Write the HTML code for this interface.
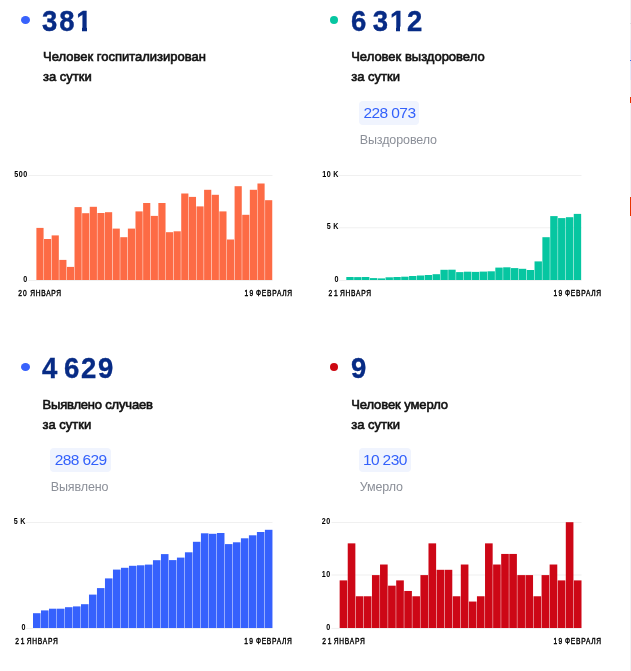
<!DOCTYPE html>
<html lang="ru"><head><meta charset="utf-8"><title>Статистика</title>
<style>
html,body{margin:0;padding:0;background:#fff;}
body{width:631px;height:671px;position:relative;overflow:hidden;font-family:"Liberation Sans", sans-serif;}
.dot{position:absolute;width:9px;height:8.3px;border-radius:50%;}
.num{position:absolute;font-weight:700;font-size:27.5px;line-height:32px;color:#072b85;-webkit-text-stroke:0.35px #072b85;white-space:nowrap;letter-spacing:1.8px;word-spacing:-4.7px;transform:scaleY(1.095);transform-origin:0 25px;}
.w{position:absolute;top:20.8px;height:6.5px;background:#fff;}
.lab{position:absolute;font-weight:400;font-size:13px;line-height:20px;color:#111;white-space:nowrap;-webkit-text-stroke:0.6px #111;}
.badge{position:absolute;height:23.7px;line-height:23.7px;padding:0 4.2px 0 4.6px;border-radius:4px;background:#f0f4fe;color:#3361fb;font-size:15.5px;letter-spacing:-0.6px;white-space:nowrap;}
.sub{position:absolute;font-size:12.5px;letter-spacing:-0.1px;line-height:16px;color:#8b8f98;white-space:nowrap;}
svg{position:absolute;left:0;top:0;}
.yl{font-family:"Liberation Sans", sans-serif;font-size:8.3px;font-weight:700;fill:#000;letter-spacing:0.7px;word-spacing:-0.8px;}
.xl{font-family:"Liberation Sans", sans-serif;font-size:8.3px;font-weight:400;fill:#000;stroke:#000;stroke-width:0.4px;}
.edge{position:absolute;left:630px;width:1px;}
</style></head><body>
<svg width="631" height="671" viewBox="0 0 631 671">
<rect x="28.3" y="175.00" width="244.20" height="1" fill="#f0f0f0"/>
<rect x="28.3" y="280.00" width="244.20" height="1" fill="#f0f0f0"/>
<rect x="36.40" y="227.90" width="7.17" height="52.10" fill="#fd6b45"/>
<rect x="44.02" y="239.00" width="7.17" height="41.00" fill="#fd6b45"/>
<rect x="51.65" y="235.40" width="7.17" height="44.60" fill="#fd6b45"/>
<rect x="59.27" y="259.90" width="7.17" height="20.10" fill="#fd6b45"/>
<rect x="66.89" y="266.90" width="7.17" height="13.10" fill="#fd6b45"/>
<rect x="74.51" y="207.10" width="7.17" height="72.90" fill="#fd6b45"/>
<rect x="82.14" y="213.20" width="7.17" height="66.80" fill="#fd6b45"/>
<rect x="89.76" y="206.80" width="7.17" height="73.20" fill="#fd6b45"/>
<rect x="97.38" y="213.00" width="7.17" height="67.00" fill="#fd6b45"/>
<rect x="105.00" y="212.20" width="7.17" height="67.80" fill="#fd6b45"/>
<rect x="112.63" y="228.60" width="7.17" height="51.40" fill="#fd6b45"/>
<rect x="120.25" y="237.20" width="7.17" height="42.80" fill="#fd6b45"/>
<rect x="127.87" y="228.60" width="7.17" height="51.40" fill="#fd6b45"/>
<rect x="135.49" y="211.40" width="7.17" height="68.60" fill="#fd6b45"/>
<rect x="143.12" y="203.00" width="7.17" height="77.00" fill="#fd6b45"/>
<rect x="150.74" y="215.90" width="7.17" height="64.10" fill="#fd6b45"/>
<rect x="158.36" y="203.00" width="7.17" height="77.00" fill="#fd6b45"/>
<rect x="165.98" y="232.20" width="7.17" height="47.80" fill="#fd6b45"/>
<rect x="173.61" y="231.30" width="7.17" height="48.70" fill="#fd6b45"/>
<rect x="181.23" y="193.50" width="7.17" height="86.50" fill="#fd6b45"/>
<rect x="188.85" y="196.90" width="7.17" height="83.10" fill="#fd6b45"/>
<rect x="196.47" y="206.40" width="7.17" height="73.60" fill="#fd6b45"/>
<rect x="204.10" y="189.80" width="7.17" height="90.20" fill="#fd6b45"/>
<rect x="211.72" y="194.80" width="7.17" height="85.20" fill="#fd6b45"/>
<rect x="219.34" y="211.40" width="7.17" height="68.60" fill="#fd6b45"/>
<rect x="226.96" y="239.50" width="7.17" height="40.50" fill="#fd6b45"/>
<rect x="234.59" y="186.20" width="7.17" height="93.80" fill="#fd6b45"/>
<rect x="242.21" y="214.80" width="7.17" height="65.20" fill="#fd6b45"/>
<rect x="249.83" y="189.80" width="7.17" height="90.20" fill="#fd6b45"/>
<rect x="257.45" y="183.50" width="7.17" height="96.50" fill="#fd6b45"/>
<rect x="265.08" y="200.20" width="7.17" height="79.80" fill="#fd6b45"/>
<text transform="translate(27.9,177.10) scale(0.86,1)" text-anchor="end" class="yl">500</text>
<text transform="translate(27.9,282.10) scale(0.86,1)" text-anchor="end" class="yl">0</text>
<text transform="translate(18.20,296.00) scale(0.8,1)" class="xl" textLength="10.62" lengthAdjust="spacing">20</text><text transform="translate(30.30,296.00) scale(0.8,1)" class="xl" textLength="38.50" lengthAdjust="spacing">ЯНВАРЯ</text>
<text transform="translate(244.50,296.00) scale(0.8,1)" class="xl" textLength="10.87" lengthAdjust="spacing">19</text><text transform="translate(256.10,296.00) scale(0.8,1)" class="xl" textLength="45.00" lengthAdjust="spacing">ФЕВРАЛЯ</text>
<rect x="338.6" y="175.00" width="242.90" height="1" fill="#f0f0f0"/>
<rect x="338.6" y="227.30" width="242.90" height="1" fill="#f0f0f0"/>
<rect x="338.6" y="280.00" width="242.90" height="1" fill="#f0f0f0"/>
<rect x="346.30" y="277.00" width="7.39" height="3.00" fill="#06c6a1"/>
<rect x="354.14" y="277.10" width="7.39" height="2.90" fill="#06c6a1"/>
<rect x="361.99" y="277.00" width="7.39" height="3.00" fill="#06c6a1"/>
<rect x="369.83" y="278.10" width="7.39" height="1.90" fill="#06c6a1"/>
<rect x="377.67" y="278.40" width="7.39" height="1.60" fill="#06c6a1"/>
<rect x="385.52" y="277.30" width="7.39" height="2.70" fill="#06c6a1"/>
<rect x="393.36" y="277.00" width="7.39" height="3.00" fill="#06c6a1"/>
<rect x="401.20" y="276.70" width="7.39" height="3.30" fill="#06c6a1"/>
<rect x="409.05" y="276.00" width="7.39" height="4.00" fill="#06c6a1"/>
<rect x="416.89" y="275.50" width="7.39" height="4.50" fill="#06c6a1"/>
<rect x="424.73" y="275.00" width="7.39" height="5.00" fill="#06c6a1"/>
<rect x="432.58" y="274.20" width="7.39" height="5.80" fill="#06c6a1"/>
<rect x="440.42" y="269.80" width="7.39" height="10.20" fill="#06c6a1"/>
<rect x="448.26" y="269.70" width="7.39" height="10.30" fill="#06c6a1"/>
<rect x="456.11" y="272.10" width="7.39" height="7.90" fill="#06c6a1"/>
<rect x="463.95" y="271.70" width="7.39" height="8.30" fill="#06c6a1"/>
<rect x="471.79" y="271.90" width="7.39" height="8.10" fill="#06c6a1"/>
<rect x="479.64" y="271.60" width="7.39" height="8.40" fill="#06c6a1"/>
<rect x="487.48" y="271.30" width="7.39" height="8.70" fill="#06c6a1"/>
<rect x="495.32" y="267.60" width="7.39" height="12.40" fill="#06c6a1"/>
<rect x="503.17" y="267.30" width="7.39" height="12.70" fill="#06c6a1"/>
<rect x="511.01" y="268.10" width="7.39" height="11.90" fill="#06c6a1"/>
<rect x="518.85" y="268.80" width="7.39" height="11.20" fill="#06c6a1"/>
<rect x="526.70" y="270.00" width="7.39" height="10.00" fill="#06c6a1"/>
<rect x="534.54" y="261.40" width="7.39" height="18.60" fill="#06c6a1"/>
<rect x="542.38" y="237.20" width="7.39" height="42.80" fill="#06c6a1"/>
<rect x="550.23" y="216.10" width="7.39" height="63.90" fill="#06c6a1"/>
<rect x="558.07" y="218.10" width="7.39" height="61.90" fill="#06c6a1"/>
<rect x="565.91" y="217.20" width="7.39" height="62.80" fill="#06c6a1"/>
<rect x="573.76" y="213.90" width="7.39" height="66.10" fill="#06c6a1"/>
<text transform="translate(339.0,177.10) scale(0.86,1)" text-anchor="end" class="yl">10 K</text>
<text transform="translate(339.0,229.40) scale(0.86,1)" text-anchor="end" class="yl">5 K</text>
<text transform="translate(339.0,282.10) scale(0.86,1)" text-anchor="end" class="yl">0</text>
<text transform="translate(328.50,296.00) scale(0.8,1)" class="xl" textLength="11.50" lengthAdjust="spacing">21</text><text transform="translate(339.90,296.00) scale(0.8,1)" class="xl" textLength="39.00" lengthAdjust="spacing">ЯНВАРЯ</text>
<text transform="translate(553.50,296.00) scale(0.8,1)" class="xl" textLength="10.87" lengthAdjust="spacing">19</text><text transform="translate(565.10,296.00) scale(0.8,1)" class="xl" textLength="45.00" lengthAdjust="spacing">ФЕВРАЛЯ</text>
<rect x="25.8" y="522.00" width="246.70" height="1" fill="#f0f0f0"/>
<rect x="25.8" y="627.90" width="246.70" height="1" fill="#f0f0f0"/>
<rect x="33.00" y="613.20" width="7.55" height="14.80" fill="#3661fd"/>
<rect x="41.00" y="610.40" width="7.55" height="17.60" fill="#3661fd"/>
<rect x="48.99" y="608.70" width="7.55" height="19.30" fill="#3661fd"/>
<rect x="56.99" y="608.70" width="7.55" height="19.30" fill="#3661fd"/>
<rect x="64.99" y="607.20" width="7.55" height="20.80" fill="#3661fd"/>
<rect x="72.98" y="606.40" width="7.55" height="21.60" fill="#3661fd"/>
<rect x="80.98" y="604.20" width="7.55" height="23.80" fill="#3661fd"/>
<rect x="88.98" y="594.60" width="7.55" height="33.40" fill="#3661fd"/>
<rect x="96.97" y="588.10" width="7.55" height="39.90" fill="#3661fd"/>
<rect x="104.97" y="578.40" width="7.55" height="49.60" fill="#3661fd"/>
<rect x="112.97" y="569.60" width="7.55" height="58.40" fill="#3661fd"/>
<rect x="120.96" y="567.80" width="7.55" height="60.20" fill="#3661fd"/>
<rect x="128.96" y="565.80" width="7.55" height="62.20" fill="#3661fd"/>
<rect x="136.96" y="565.30" width="7.55" height="62.70" fill="#3661fd"/>
<rect x="144.95" y="564.60" width="7.55" height="63.40" fill="#3661fd"/>
<rect x="152.95" y="560.20" width="7.55" height="67.80" fill="#3661fd"/>
<rect x="160.95" y="554.10" width="7.55" height="73.90" fill="#3661fd"/>
<rect x="168.94" y="560.10" width="7.55" height="67.90" fill="#3661fd"/>
<rect x="176.94" y="557.60" width="7.55" height="70.40" fill="#3661fd"/>
<rect x="184.94" y="552.30" width="7.55" height="75.70" fill="#3661fd"/>
<rect x="192.93" y="541.80" width="7.55" height="86.20" fill="#3661fd"/>
<rect x="200.93" y="533.30" width="7.55" height="94.70" fill="#3661fd"/>
<rect x="208.93" y="533.80" width="7.55" height="94.20" fill="#3661fd"/>
<rect x="216.92" y="533.00" width="7.55" height="95.00" fill="#3661fd"/>
<rect x="224.92" y="544.10" width="7.55" height="83.90" fill="#3661fd"/>
<rect x="232.92" y="542.30" width="7.55" height="85.70" fill="#3661fd"/>
<rect x="240.91" y="538.30" width="7.55" height="89.70" fill="#3661fd"/>
<rect x="248.91" y="535.30" width="7.55" height="92.70" fill="#3661fd"/>
<rect x="256.91" y="532.00" width="7.55" height="96.00" fill="#3661fd"/>
<rect x="264.90" y="529.80" width="7.55" height="98.20" fill="#3661fd"/>
<text transform="translate(26.0,524.10) scale(0.86,1)" text-anchor="end" class="yl">5 K</text>
<text transform="translate(26.0,630.00) scale(0.86,1)" text-anchor="end" class="yl">0</text>
<text transform="translate(15.30,644.00) scale(0.8,1)" class="xl" textLength="11.50" lengthAdjust="spacing">21</text><text transform="translate(26.70,644.00) scale(0.8,1)" class="xl" textLength="39.00" lengthAdjust="spacing">ЯНВАРЯ</text>
<text transform="translate(244.30,644.00) scale(0.8,1)" class="xl" textLength="10.87" lengthAdjust="spacing">19</text><text transform="translate(255.90,644.00) scale(0.8,1)" class="xl" textLength="45.00" lengthAdjust="spacing">ФЕВРАЛЯ</text>
<rect x="331.5" y="522.00" width="250.00" height="1" fill="#f0f0f0"/>
<rect x="331.5" y="574.50" width="250.00" height="1" fill="#f0f0f0"/>
<rect x="331.5" y="627.90" width="250.00" height="1" fill="#f0f0f0"/>
<rect x="339.65" y="580.39" width="7.63" height="47.61" fill="#cd0716"/>
<rect x="347.73" y="543.36" width="7.63" height="84.64" fill="#cd0716"/>
<rect x="355.80" y="596.26" width="7.63" height="31.74" fill="#cd0716"/>
<rect x="363.88" y="596.26" width="7.63" height="31.74" fill="#cd0716"/>
<rect x="371.96" y="575.10" width="7.63" height="52.90" fill="#cd0716"/>
<rect x="380.03" y="564.52" width="7.63" height="63.48" fill="#cd0716"/>
<rect x="388.11" y="585.68" width="7.63" height="42.32" fill="#cd0716"/>
<rect x="396.19" y="580.39" width="7.63" height="47.61" fill="#cd0716"/>
<rect x="404.26" y="590.97" width="7.63" height="37.03" fill="#cd0716"/>
<rect x="412.34" y="596.26" width="7.63" height="31.74" fill="#cd0716"/>
<rect x="420.42" y="575.10" width="7.63" height="52.90" fill="#cd0716"/>
<rect x="428.49" y="543.36" width="7.63" height="84.64" fill="#cd0716"/>
<rect x="436.57" y="569.81" width="7.63" height="58.19" fill="#cd0716"/>
<rect x="444.65" y="569.81" width="7.63" height="58.19" fill="#cd0716"/>
<rect x="452.72" y="596.26" width="7.63" height="31.74" fill="#cd0716"/>
<rect x="460.80" y="564.52" width="7.63" height="63.48" fill="#cd0716"/>
<rect x="468.88" y="601.55" width="7.63" height="26.45" fill="#cd0716"/>
<rect x="476.95" y="596.26" width="7.63" height="31.74" fill="#cd0716"/>
<rect x="485.03" y="543.36" width="7.63" height="84.64" fill="#cd0716"/>
<rect x="493.11" y="564.52" width="7.63" height="63.48" fill="#cd0716"/>
<rect x="501.18" y="553.94" width="7.63" height="74.06" fill="#cd0716"/>
<rect x="509.26" y="553.94" width="7.63" height="74.06" fill="#cd0716"/>
<rect x="517.34" y="575.10" width="7.63" height="52.90" fill="#cd0716"/>
<rect x="525.41" y="575.10" width="7.63" height="52.90" fill="#cd0716"/>
<rect x="533.49" y="596.26" width="7.63" height="31.74" fill="#cd0716"/>
<rect x="541.57" y="575.10" width="7.63" height="52.90" fill="#cd0716"/>
<rect x="549.64" y="564.52" width="7.63" height="63.48" fill="#cd0716"/>
<rect x="557.72" y="580.39" width="7.63" height="47.61" fill="#cd0716"/>
<rect x="565.80" y="522.20" width="7.63" height="105.80" fill="#cd0716"/>
<rect x="573.87" y="580.39" width="7.63" height="47.61" fill="#cd0716"/>
<text transform="translate(330.9,524.10) scale(0.86,1)" text-anchor="end" class="yl">20</text>
<text transform="translate(330.9,576.60) scale(0.86,1)" text-anchor="end" class="yl">10</text>
<text transform="translate(330.9,630.00) scale(0.86,1)" text-anchor="end" class="yl">0</text>
<text transform="translate(322.30,644.00) scale(0.8,1)" class="xl" textLength="11.50" lengthAdjust="spacing">21</text><text transform="translate(333.70,644.00) scale(0.8,1)" class="xl" textLength="39.00" lengthAdjust="spacing">ЯНВАРЯ</text>
<text transform="translate(553.50,644.00) scale(0.8,1)" class="xl" textLength="10.87" lengthAdjust="spacing">19</text><text transform="translate(565.10,644.00) scale(0.8,1)" class="xl" textLength="45.00" lengthAdjust="spacing">ФЕВРАЛЯ</text>
</svg>
<div class="dot" style="left:21px;top:15.8px;width:9px;background:#3862fc"></div><div class="num" style="left:42.1px;top:5.8px">381<i class="w" style="left:35.18px;width:5.05px"></i><i class="w" style="left:44.63px;width:5.2px"></i></div><div class="lab" style="left:43px;top:47px"><span style="letter-spacing:0px">Человек госпитализирован</span><br>за сутки</div>
<div class="dot" style="left:329.9px;top:15.8px;width:8.3px;background:#06c6a1"></div><div class="num" style="left:351.0px;top:5.8px">6 312<i class="w" style="left:39.92px;width:5.05px"></i><i class="w" style="left:49.38px;width:5.2px"></i></div><div class="lab" style="left:351.2px;top:47px"><span style="letter-spacing:0px">Человек выздоровело</span><br>за сутки</div><div class="badge" style="left:359.2px;top:101px;padding:0 3.5px 0 4.4px">228 073</div><div class="sub" style="left:359.7px;top:132px">Выздоровело</div>
<div class="dot" style="left:21px;top:362.8px;width:9px;background:#3862fc"></div><div class="num" style="left:42.1px;top:352.8px">4 629</div><div class="lab" style="left:42.5px;top:395px"><span style="letter-spacing:-0.19px">Выявлено случаев</span><br>за сутки</div><div class="badge" style="left:50.2px;top:448px;padding:0 4.2px 0 4.6px">288 629</div><div class="sub" style="left:50.7px;top:479.4px">Выявлено</div>
<div class="dot" style="left:329.9px;top:362.8px;width:8.3px;background:#cd0812"></div><div class="num" style="left:351.0px;top:352.8px">9</div><div class="lab" style="left:351.2px;top:395px"><span style="letter-spacing:-0.09px">Человек умерло</span><br>за сутки</div><div class="badge" style="left:359.2px;top:448px;padding:0 4.1px 0 3.7px">10 230</div><div class="sub" style="left:359.7px;top:479.4px">Умерло</div>
<div class="edge" style="top:0;height:671px;background:#f2f2f4"></div>
<div class="edge" style="top:23px;height:1px;background:#dcdce0"></div>
<div class="edge" style="top:40px;height:40px;background:#e4eafa"></div>
<div class="edge" style="top:60px;height:1px;background:#3d6cf0"></div>
<div class="edge" style="top:97px;height:6px;background:#e83200"></div>
<div class="edge" style="top:197px;height:19px;background:#e83200"></div>
</body></html>
